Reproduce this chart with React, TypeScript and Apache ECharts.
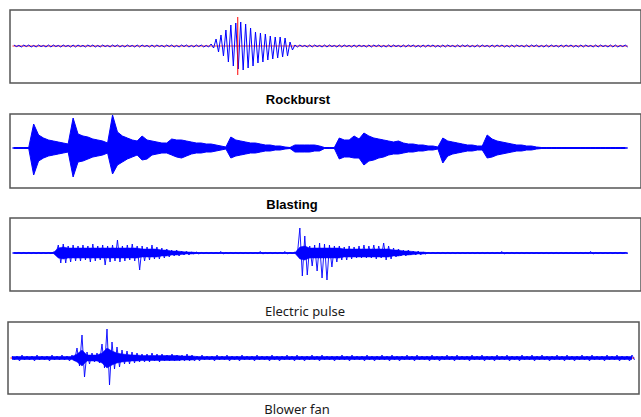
import React, { useEffect, useRef } from "react";
import * as echarts from "echarts";

// Envelope amplitudes (upper / lower), one sample every 5 px along the record
const rockburstUp = [
  1,0.6,1,1,0.6,1,0.6,1,1,0.6, 1,0.6,1,1,0.6,1,1,0.6,1,0.6, 1,1,0.6,1,0.6,1,1,0.6,1,1, 0.6,1,1,0.6,1,1,0.6,1,1,0.6,
  2,7,11,16,21,23,24,22,18,14,13,12,10,9,9,8,4,1,
  1,0.6,1,1,0.6,1,1,0.6,1,1, 0.6,1,1,0.6,1,1,1,0.6,1,1, 0.6,1,1,1,0.6,1,1,1,0.6,1, 1,0.6,1,1,1,0.6,1,1,0.6,1, 1,1,0.6,1,1,0.6,1,1,1,0.6, 1,1,0.6,1,1,1,0.6,1,1,0.6, 1,1,0.6,1,1,0.6,1,
];
const rockburstDown = [
  0.6,1,0.6,1,1,0.6,1,1,0.6,1, 0.6,1,1,0.6,1,0.6,1,1,0.6,1, 0.6,1,1,0.6,1,1,0.6,1,1,0.6, 1,0.6,1,1,0.6,1,1,0.6,1,1,
  2,6,10,16,20,23,24,22,20,17,16,14,13,12,11,10,4,1,
  0.6,1,1,0.6,1,1,0.6,1,1,0.6, 1,1,0.6,1,1,0.6,1,1,1,0.6, 1,1,0.6,1,1,1,0.6,1,1,1, 0.6,1,1,0.6,1,1,1,0.6,1,1, 0.6,1,1,1,0.6,1,1,0.6,1,1, 1,0.6,1,1,0.6,1,1,1,0.6,1, 1,0.6,1,1,1,0.6,1,
];
const rockburstMarkerPos = [45.4];
const rockburstMarkerAmp = [29, -29];

const blastingUp = [
  0.5,0.5,0.5,0.5,24,13,10,8,7,6,5,4,
  30,14,12,11,9,8,7,5,
  33,16,12,10,8,7,12,8,7,6,5,5,
  9,8,8,7,6,5,5,4,4,3,2,1,
  11,8,7,6,5,5,4,3,3,2,2,1,0.5,
  3,3,3,3,3,2,0.5,0.5,0.5,
  10,8,8,12,9,15,12,10,9,8,7,6,7,5,4,4,3,3,2,2,1,
  10,7,6,5,4,3,3,2,2,
  13,9,7,6,5,4,3,3,2,2,1,
  0.5,0.5,0.5,0.5,0.5,0.5,0.5,0.5,0.5,0.5,0.5,0.5,0.5,0.5,0.5,0.5,0.5,0.5,
];
const blastingDown = [
  0.5,0.5,0.5,0.5,27,13,10,8,7,6,5,4,
  29,14,13,11,9,8,7,5,
  26,17,14,11,9,7,12,11,7,6,5,5,
  7,9,10,8,6,5,5,4,4,3,2,1,
  10,8,7,6,5,5,4,3,3,2,2,1,0.5,
  4,4,4,4,3,3,0.5,0.5,0.5,
  11,9,9,10,10,17,13,12,10,9,7,6,6,5,4,4,3,3,2,2,1,
  15,8,6,5,4,3,3,2,2,
  10,9,7,6,5,4,3,3,2,2,1,
  0.5,0.5,0.5,0.5,0.5,0.5,0.5,0.5,0.5,0.5,0.5,0.5,0.5,0.5,0.5,0.5,0.5,0.5,
];

// Electric pulse: spike envelope and dense core band
const electricUp = [
  0.3,0.5,0.5,0.5,0.5,0.5,0.5,0.5,1,
  8,9,7,8,7,8,7,9,7,8,7,8,13,7,8,9,7,7,6,8,6,5,4,3,3,2,2,1,1,
  0.5,0.5,0.5,0.5,1.5,0.5,0.5,0.5,0.5,0.5,0.5,0.5,1.5,0.5,0.5,0.5,0.5,1.5,0.5,1,
  25,17,7,8,10,9,8,7,7,6,7,6,7,8,7,8,7,10,7,5,4,3,3,2,2,1,
  0.5,0.5,0.5,0.5,0.5,0.5,0.5,0.5,0.5,0.5,0.5,0.5,0.5,0.5,0.5,1.5,0.5,0.5,0.5,0.5,
  0.5,0.5,0.5,0.5,0.5,0.5,0.5,0.5,0.5,0.5,0.5,0.5,0.5,1.5,0.5,0.5,0.5,0.5,0.5,0.5,0.5,
];
const electricDown = [
  0.3,0.5,0.5,0.5,0.5,0.5,0.5,0.5,1,
  10,10,9,8,8,7,9,8,7,12,9,8,9,8,7,8,17,8,7,6,6,5,4,3,3,2,2,1,1,
  0.5,0.5,0.5,0.5,1,0.5,0.5,0.5,0.5,0.5,0.5,0.5,1,0.5,0.5,0.5,0.5,1,0.5,1,
  23,22,13,18,25,27,14,9,7,7,6,5,5,5,5,6,5,7,6,4,3,3,2,2,2,1,
  0.5,0.5,0.5,0.5,0.5,0.5,0.5,0.5,0.5,0.5,0.5,0.5,0.5,0.5,0.5,1,0.5,0.5,0.5,0.5,
  0.5,0.5,0.5,0.5,0.5,0.5,0.5,0.5,0.5,0.5,0.5,0.5,0.5,1,0.5,0.5,0.5,0.5,0.5,0.5,0.5,
];
const electricCore = [
  0.3,0.3,0.3,0.3,0.3,0.3,0.3,0.3,0.5,
  5,6,5,5,5,5,5,5,5,5,5,5,5,5,5,5,5,4,4,4,4,3,3,2,2,1.5,1,1,0.5,
  0.3,0.3,0.3,0.3,0.3,0.3,0.3,0.3,0.3,0.3,0.3,0.3,0.3,0.3,0.3,0.3,0.3,0.3,0.3,0.3,
  6,7,5,5,5,5,5,5,5,4,4,4,4,4,4,4,4,4,4,3,3,2,2,1.5,1,1,
  0.3,0.3,0.3,0.3,0.3,0.3,0.3,0.3,0.3,0.3,0.3,0.3,0.3,0.3,0.3,0.3,0.3,0.3,0.3,0.3,
  0.3,0.3,0.3,0.3,0.3,0.3,0.3,0.3,0.3,0.3,0.3,0.3,0.3,0.3,0.3,0.3,0.3,0.3,0.3,0.3,0.3,
];

// Blower fan: spike envelope and dense core band
const blowerUp = [
  2,2,3,2,2,3,2,2,3,2,3,2,3,
  10,23,6,5,5,14,29,16,11,8,7,6,5,4,4,5,4,4,3,4,3,3,4,3,
  2,3,2,2,3,2,3,2,2,3, 2,2,3,2,2,3,2,2,3,2, 3,2,2,3,2,3,2,2,2,3, 2,3,2,2,3,2,2,3,2,3,
  2,2,3,2,3,2,2,3,2,2, 3,2,3,2,2,3,2,3,2,2, 3,2,3,2,2,3,2,3,2,3, 2,2,3,2,3,2,2,3,
  2,3,2,2,3,2,3,2,2,3,
];
const blowerDown = [
  2,3,2,2,3,2,2,3,2,2,2,3,3,
  8,19,6,4,5,10,27,11,9,6,6,5,4,4,4,3,4,3,3,3,3,3,3,3,
  3,2,2,3,2,2,3,2,3,2, 2,3,2,2,3,2,3,2,2,3, 2,3,2,2,3,2,2,3,2,2, 3,2,2,3,2,3,2,2,3,2,
  3,2,2,3,2,2,3,2,3,2, 2,3,2,2,3,2,2,3,2,3, 2,2,3,2,3,2,2,3,2,2, 3,2,2,3,2,3,2,2,
  3,2,2,3,2,2,3,2,3,2,
];
const blowerCore = [
  1.5,1.5,1.5,1.5,1.5,1.5,1.5,1.5,1.5,1.5,1.5,1.5,1.5,
  4,8,3,3,3,5,10,7,5,4,3.5,3,3,2.5,2.5,2.5,2.5,2.5,2.5,2.5,2.5,2,2,2,
  1.5,1.5,1.5,1.5,1.5,1.5,1.5,1.5,1.5,1.5, 1.5,1.5,1.5,1.5,1.5,1.5,1.5,1.5,1.5,1.5,
  1.5,1.5,1.5,1.5,1.5,1.5,1.5,1.5,1.5,1.5, 1.5,1.5,1.5,1.5,1.5,1.5,1.5,1.5,1.5,1.5,
  1.5,1.5,1.5,1.5,1.5,1.5,1.5,1.5,1.5,1.5, 1.5,1.5,1.5,1.5,1.5,1.5,1.5,1.5,1.5,1.5,
  1.5,1.5,1.5,1.5,1.5,1.5,1.5,1.5,1.5,1.5, 1.5,1.5,1.5,1.5,1.5,1.5,1.5,1.5,
  1.5,1.5,1.5,1.5,1.5,1.5,1.5,1.5,1.5,1.5,
];

const titles = ["Rockburst", "Blasting", "Electric pulse", "Blower fan"];

function wave(up: number[], down: number[]) {
  const pts: number[][] = [];
  up.forEach((u, i) => {
    pts.push([i, u]);
    pts.push([i + 0.5, -(down[i] ?? u)]);
  });
  return pts;
}

export default function App() {
  const ref = useRef<HTMLDivElement>(null);
  useEffect(() => {
    if (!ref.current) return;
    const chart = echarts.init(ref.current, null, { renderer: "svg" });
    const n = rockburstUp.length;
    const grids = [
      { left: 10, top: 10, width: 640, height: 73 },
      { left: 10, top: 114, width: 640, height: 74 },
      { left: 10, top: 218, width: 640, height: 73 },
      { left: 8, top: 322, width: 631, height: 72 },
    ].map((g) => ({
      ...g,
      show: true,
      borderColor: "#555555",
      borderWidth: 1.5,
      backgroundColor: "transparent",
    }));
    const yRanges = [
      [-37, 36],
      [-40, 34],
      [-38, 35],
      [-36, 36],
    ];
    const xAxis = grids.map((g, i) => ({
      type: "value",
      gridIndex: i,
      min: -0.8,
      max: -0.8 + g.width / 5,
      show: false,
    }));
    const yAxis = yRanges.map((r, i) => ({
      type: "value",
      gridIndex: i,
      min: r[0],
      max: r[1],
      show: false,
    }));
    const blue = "#0000ff";
    const red = "#ff0000";
    const line = (idx: number, data: number[][], color: string, width: number, z: number) => ({
      type: "line",
      xAxisIndex: idx,
      yAxisIndex: idx,
      data,
      showSymbol: false,
      symbol: "none",
      lineStyle: { color, width },
      z,
      silent: true,
    });
    const filled = (idx: number, vals: number[], sign: number, width: number, z: number) => ({
      type: "line",
      xAxisIndex: idx,
      yAxisIndex: idx,
      data: vals.map((v, i) => [i, sign * v]),
      showSymbol: false,
      symbol: "none",
      lineStyle: { color: blue, width },
      areaStyle: { color: blue, opacity: 1, origin: 0 },
      z,
      silent: true,
    });
    const mp = rockburstMarkerPos[0];
    const span = [[-0.3, 0], [n - 0.5, 0]];
    const series = [
      line(0, span, red, 0.8, 1),
      line(0, wave(rockburstUp, rockburstDown), blue, 1, 2),
      line(0, [[mp, rockburstMarkerAmp[0]], [mp, rockburstMarkerAmp[1]]], red, 1, 3),
      line(1, span, blue, 1.5, 1),
      filled(1, blastingUp, 1, 1, 2),
      filled(1, blastingDown, -1, 1, 2),
      line(2, span, blue, 1.5, 1),
      filled(2, electricCore, 1, 0.5, 2),
      filled(2, electricCore, -1, 0.5, 2),
      line(2, wave(electricUp, electricDown), blue, 0.9, 3),
      line(3, span, red, 1, 1),
      filled(3, blowerCore, 1, 0.5, 2),
      filled(3, blowerCore, -1, 0.5, 2),
      line(3, wave(blowerUp, blowerDown), blue, 0.9, 3),
    ];
    const titleSpec = [
      { x: 298, y: 99, bold: true },
      { x: 292, y: 204, bold: true },
      { x: 305, y: 311, bold: false },
      { x: 297, y: 409, bold: false },
    ];
    const graphic = titles.map((t, i) => ({
      type: "text",
      x: titleSpec[i].x,
      y: titleSpec[i].y,
      style: {
        text: t,
        fill: titleSpec[i].bold ? "#000000" : "#1a1a1a",
        font: titleSpec[i].bold
          ? "bold 13px 'Liberation Sans', Arial, sans-serif"
          : "13px 'Noto Sans', sans-serif",
        textAlign: "center",
        textVerticalAlign: "middle",
      },
    }));
    chart.setOption({
      animation: false,
      backgroundColor: "#ffffff",
      grid: grids,
      xAxis,
      yAxis,
      series,
      graphic,
    });
    return () => chart.dispose();
  }, []);
  return (
    <div
      ref={ref}
      style={{ position: "fixed", left: 0, top: 0, width: 641, height: 417 }}
    />
  );
}
